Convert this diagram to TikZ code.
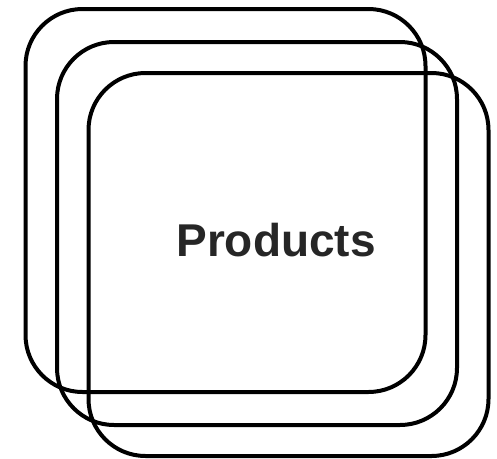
\documentclass[tikz,border=0pt]{standalone}
\usepackage{xcolor}
\usepackage{fontspec}
\setmainfont{Liberation Sans}
\definecolor{labelgray}{HTML}{262626}
\tikzset{card/.style={draw, line width=4pt, rounded corners=57pt, minimum width=400pt, minimum height=383pt}}

\begin{document}
\begin{tikzpicture}[x=1pt, y=-1pt]
\useasboundingbox (0,0) rectangle (497,458);
\foreach \n/\x/\y in {1/225.5/200.5, 2/257/233.5, 3/288.5/264.5} {
  \node[card] (card\n) at (\x,\y) {};
}
\node[text=labelgray, font=\fontsize{46}{50}\selectfont\bfseries] (products) at (276,240) {Products};
\end{tikzpicture}
\end{document}
